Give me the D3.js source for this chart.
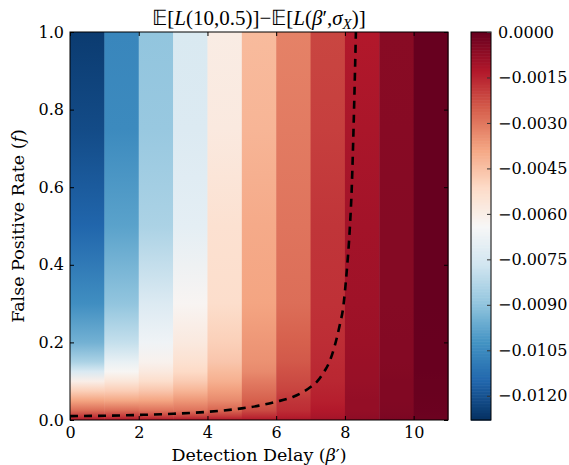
<!DOCTYPE html>
<html><head><meta charset="utf-8">
<script src="https://cdn.jsdelivr.net/npm/d3@7"></script>
<style>
html,body{margin:0;padding:0;background:#fff;}
svg{display:block;}
text{font-family:"DejaVu Serif",serif;fill:#000;}
</style></head>
<body>
<script>
// ---- data ----
const delays = [0,1,2,3,4,5,6,7,8,9,10];
const fLevels = [0, 0.01, 0.025, 0.05, 0.075, 0.1, 0.125, 0.15, 0.2, 0.3, 0.5, 0.75, 1.0];
const col0  = [-0.00128,-0.00192,-0.00282,-0.00384,-0.00486,-0.00600,-0.00740,-0.00845,-0.00947,-0.01037,-0.01152,-0.01216,-0.01254];
const col1  = [-0.00128,-0.00192,-0.00282,-0.00390,-0.00480,-0.00560,-0.00630,-0.00691,-0.00794,-0.00896,-0.00986,-0.01050,-0.01062];
const col2  = [-0.00128,-0.00205,-0.00294,-0.00384,-0.00461,-0.00525,-0.00576,-0.00614,-0.00666,-0.00730,-0.00845,-0.00883,-0.00896];
const col3  = [-0.00128,-0.00205,-0.00294,-0.00358,-0.00422,-0.00474,-0.00512,-0.00538,-0.00576,-0.00627,-0.00704,-0.00730,-0.00742];
const col4  = [-0.00128,-0.00192,-0.00269,-0.00333,-0.00371,-0.00410,-0.00435,-0.00461,-0.00486,-0.00525,-0.00538,-0.00576,-0.00589];
const col5  = [-0.00128,-0.00166,-0.00218,-0.00256,-0.00282,-0.00307,-0.00333,-0.00346,-0.00358,-0.00384,-0.00397,-0.00422,-0.00435];
const col6  = [-0.00115,-0.00141,-0.00166,-0.00179,-0.00205,-0.00218,-0.00230,-0.00243,-0.00256,-0.00282,-0.00294,-0.00307,-0.00320];
const col7  = [-0.00102,-0.00115,-0.00128,-0.00141,-0.00147,-0.00154,-0.00156,-0.00160,-0.00166,-0.00173,-0.00179,-0.00198,-0.00210];
const col8  = [-0.00064,-0.00070,-0.00077,-0.00077,-0.00081,-0.00083,-0.00086,-0.00087,-0.00090,-0.00096,-0.00102,-0.00115,-0.00128];
const col9  = [-0.00032,-0.00038,-0.00041,-0.00044,-0.00045,-0.00045,-0.00047,-0.00049,-0.00050,-0.00051,-0.00051,-0.00054,-0.00056];
const col10 = [-0.00010,-0.00008,-0.00006,-0.00005,-0.00004,-0.00003,-0.00002,-0.00002,-0.00001,0,0,0,0];
const columns = [col0,col1,col2,col3,col4,col5,col6,col7,col8,col9,col10];

const curveDelay = [0, 1, 2, 3, 4, 5, 5.5, 6, 6.5, 6.8, 7.0, 7.2, 7.4, 7.55, 7.7, 7.85, 7.95, 8.05, 8.14, 8.2, 8.26, 8.32];
const curveRate  = [0.010, 0.011, 0.013, 0.016, 0.021, 0.030, 0.037, 0.047, 0.060, 0.073, 0.085, 0.100, 0.125, 0.150, 0.190, 0.245, 0.29, 0.38, 0.49, 0.60, 0.78, 1.0];

const xTicks = [0,2,4,6,8,10];
const yTicks = [0,0.2,0.4,0.6,0.8,1.0];
const cbTicks = [0,-0.0015,-0.0030,-0.0045,-0.0060,-0.0075,-0.0090,-0.0105,-0.0120];
const vMin = -0.0128, vMax = 0;
const rdbuR = ["#053061","#2166ac","#4393c3","#92c5de","#d1e5f0","#f7f7f7","#fddbc7","#f4a582","#d6604d","#b2182b","#67001f"];

// ---- layout ----
const W = 569, H = 465;
const L = 70, R = 448, T = 32, B = 420;
const cbL = 471, cbR = 491;

const svg = d3.select("body").append("svg").attr("width", W).attr("height", H);
const defs = svg.append("defs");

const x = d3.scaleLinear().domain([0, 11]).range([L, R]);
const y = d3.scaleLinear().domain([0, 1]).range([B, T]);
const cy = d3.scaleLinear().domain([vMin, vMax]).range([B, T]);
const color = d3.scaleLinear()
  .domain(d3.range(rdbuR.length).map(i => vMin + (vMax - vMin) * i / (rdbuR.length - 1)))
  .range(rdbuR).interpolate(d3.interpolateRgb).clamp(true);

// heatmap columns with vertical gradients
columns.forEach((vals, i) => {
  const g = defs.append("linearGradient").attr("id", "col" + i)
    .attr("x1", 0).attr("y1", 1).attr("x2", 0).attr("y2", 0);
  vals.forEach((v, j) => {
    g.append("stop").attr("offset", (y(0) - y(fLevels[j])) / (y(0) - y(1)))
      .attr("stop-color", color(v));
  });
});
svg.append("g").selectAll("rect").data(delays).join("rect")
  .attr("x", d => x(d)).attr("y", y(1))
  .attr("width", d => x(d + 1) - x(d) + 0.5).attr("height", y(0) - y(1))
  .attr("fill", (d, i) => `url(#col${i})`);

// dashed curve
defs.append("clipPath").attr("id", "plotclip").append("rect")
  .attr("x", L).attr("y", T).attr("width", R - L).attr("height", B - T);
const line = d3.line().x(d => x(d[0])).y(d => y(d[1])).curve(d3.curveMonotoneX);
svg.append("path").datum(curveDelay.map((d, i) => [d, curveRate[i]]))
  .attr("d", line).attr("fill", "none").attr("stroke", "#000")
  .attr("stroke-width", 2.6).attr("stroke-dasharray", "8,6")
  .attr("clip-path", "url(#plotclip)");

// frame
svg.append("rect").attr("x", L).attr("y", T).attr("width", R - L).attr("height", B - T)
  .attr("fill", "none").attr("stroke", "#000").attr("stroke-width", 1);

// axes (ticks inside)
const fmtY = d3.format(".1f");
svg.append("g").attr("transform", `translate(0,${B})`)
  .call(d3.axisBottom(x).tickValues(xTicks).tickSize(-4).tickPadding(7).tickFormat(d3.format("d")))
  .call(g => { g.select(".domain").remove(); g.selectAll("text").style("font-size","16px").style("font-family","DejaVu Serif"); });
svg.append("g").attr("transform", `translate(0,${T})`)
  .call(d3.axisTop(x).tickValues(xTicks).tickSize(-4).tickFormat(""))
  .call(g => g.select(".domain").remove());
svg.append("g").attr("transform", `translate(${L},0)`)
  .call(d3.axisLeft(y).tickValues(yTicks).tickSize(-4).tickPadding(6).tickFormat(fmtY))
  .call(g => { g.select(".domain").remove(); g.selectAll("text").style("font-size","16px").style("font-family","DejaVu Serif"); });
svg.append("g").attr("transform", `translate(${R},0)`)
  .call(d3.axisRight(y).tickValues(yTicks).tickSize(-4).tickFormat(""))
  .call(g => g.select(".domain").remove());

// colorbar
const nSteps = 256;
svg.append("g").selectAll("rect").data(d3.range(nSteps)).join("rect")
  .attr("x", cbL).attr("width", cbR - cbL)
  .attr("y", i => cy(vMin + (vMax - vMin) * (i + 1) / nSteps))
  .attr("height", i => cy(vMin + (vMax - vMin) * i / nSteps) - cy(vMin + (vMax - vMin) * (i + 1) / nSteps) + 0.6)
  .attr("fill", i => color(vMin + (vMax - vMin) * (i + 0.5) / nSteps));
svg.append("rect").attr("x", cbL).attr("y", T).attr("width", cbR - cbL).attr("height", B - T)
  .attr("fill", "none").attr("stroke", "#000").attr("stroke-width", 1);
const fmtCb = v => (v === 0 ? "0.0000" : "\u2212" + d3.format(".4f")(Math.abs(v)));
svg.append("g").attr("transform", `translate(${cbR},0)`)
  .call(d3.axisRight(cy).tickValues(cbTicks).tickSize(-4).tickPadding(7).tickFormat(fmtCb))
  .call(g => { g.select(".domain").remove(); g.selectAll("line").attr("stroke","#333");
               g.selectAll("text").style("font-size","16px").style("font-family","DejaVu Serif"); });

// labels
svg.append("text").attr("x", (L + R) / 2).attr("y", 461).attr("text-anchor", "middle")
  .style("font-size", "17.5px")
  .html('Detection Delay (<tspan font-style="italic">β</tspan>′)');
svg.append("text").attr("transform", `translate(24,${(T + B) / 2}) rotate(-90)`).attr("text-anchor", "middle")
  .style("font-size", "17.5px")
  .html('False Positive Rate (<tspan font-style="italic">f</tspan>)');
const title = svg.append("text").attr("x", (L + R) / 2).attr("y", 25).attr("text-anchor", "middle")
  .style("font-size", "21px").style("font-family", "Liberation Serif");
title.html('𝔼[<tspan font-style="italic">L</tspan>(10,0.5)]−𝔼[<tspan font-style="italic">L</tspan>(<tspan font-style="italic">β</tspan>′,<tspan font-style="italic">σ</tspan><tspan font-style="italic" font-size="15px" dy="4">X</tspan><tspan dy="-4">)]</tspan>');
</script>
</body></html>
